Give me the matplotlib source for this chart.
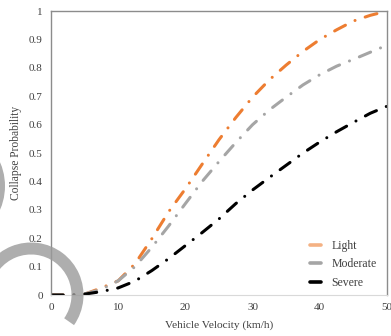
import matplotlib.pyplot as plt
from matplotlib.lines import Line2D
from matplotlib.patches import Wedge

plt.rcParams['font.family'] = ['Liberation Serif', 'DejaVu Serif']

# 速度 (km/h)
velocity = [0, 2.5, 5, 7.5, 10, 12.5, 15, 17.5, 20, 22.5, 25, 27.5, 30,
            32.5, 35, 37.5, 40, 42.5, 45, 47.5, 50]
light = [0, 0, 0.003, 0.025, 0.05, 0.11, 0.198, 0.293, 0.374, 0.461, 0.547,
         0.625, 0.697, 0.758, 0.81, 0.858, 0.9, 0.934, 0.965, 0.985, 1.0]
moderate = [0, 0, 0.004, 0.02, 0.05, 0.1, 0.168, 0.243, 0.322, 0.4, 0.47,
            0.537, 0.6, 0.652, 0.697, 0.74, 0.776, 0.806, 0.83, 0.855, 0.88]
severe = [0, 0, 0.003, 0.012, 0.025, 0.049, 0.086, 0.128, 0.174, 0.22, 0.268,
          0.322, 0.37, 0.414, 0.457, 0.5, 0.539, 0.575, 0.608, 0.64, 0.665]

names = ['Light', 'Moderate', 'Severe']
colors = ['#ED7D31', '#A5A5A5', '#000000']
legend_colors = ['#F4B183', '#A5A5A5', '#000000']

fig = plt.figure(figsize=(3.91, 3.36), dpi=100)
ax = fig.add_axes([0.1304, 0.122, 0.8594, 0.845])

for y, c in zip([light, moderate, severe], colors):
    ax.plot(velocity, y, color=c, lw=2.2, dashes=(4, 3.5, 0.01, 3.5),
            dash_capstyle='round', solid_capstyle='round')

ax.set_xlim(0, 50)
ax.set_ylim(0, 1)
ax.set_xticks(range(0, 51, 10))
ax.set_yticks([i / 10 for i in range(11)])
ax.set_yticklabels(['0', '0.1', '0.2', '0.3', '0.4', '0.5', '0.6', '0.7',
                    '0.8', '0.9', '1'])
ax.tick_params(length=0, labelsize=8, colors='#404040', pad=6)

for s in ['left', 'top', 'right']:
    ax.spines[s].set_color('#8c8c8c')
    ax.spines[s].set_linewidth(1)
ax.spines['bottom'].set_color('#d9d9d9')

ax.set_xlabel('Vehicle Velocity (km/h)', fontsize=8.2, color='#404040', labelpad=6)
ax.set_ylabel('Collapse Probability', fontsize=8.3, color='#404040', labelpad=5)

handles = [Line2D([], [], color=c, lw=2.6, solid_capstyle='round')
           for c in legend_colors]
ax.legend(handles, names, loc='lower right', bbox_to_anchor=(1.0, -0.015),
          frameon=False, fontsize=8.5, handlelength=0.9, handletextpad=0.9,
          labelspacing=0.55, labelcolor='#404040')

# 图片上的灰色圆弧
over = fig.add_axes([0, 0, 1, 1], zorder=10)
over.set_xlim(0, 391)
over.set_ylim(336, 0)
over.axis('off')
over.add_patch(Wedge((31, 295), 52.5, -200, 35, width=12,
                     color='#9a9a9a', alpha=0.8, lw=0))
over.add_patch(Wedge((-55, 186), 60, -30, 30, width=15,
                     color='#9a9a9a', alpha=0.8, lw=0))

plt.savefig('out.png', dpi=100)
